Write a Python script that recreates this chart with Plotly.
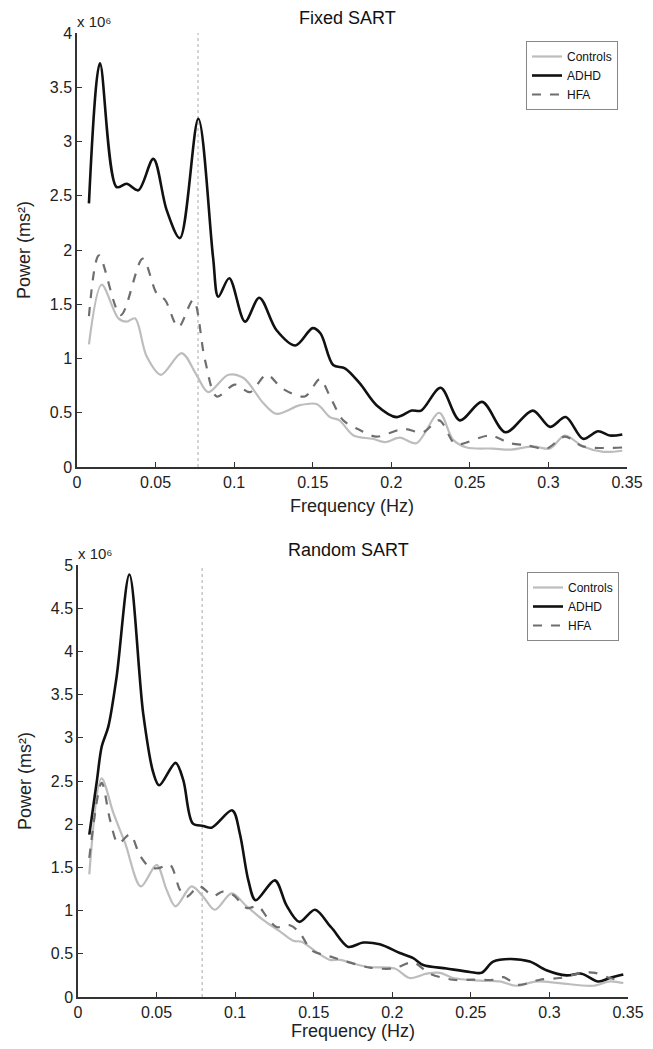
import plotly.graph_objects as go

# ---------------- Data (power in units of 10^6 ms^2) ----------------
# Fixed SART
fixed_adhd_f = [0.0076, 0.0146, 0.0252, 0.0316, 0.0390, 0.0486, 0.0570, 0.0655, 0.0772, 0.0866,
                0.0899, 0.0969, 0.1069, 0.1160, 0.1270, 0.1390, 0.1500, 0.1550, 0.1630, 0.1705,
                0.1800, 0.1906, 0.2034, 0.2130, 0.2190, 0.2314, 0.2436, 0.2578, 0.2727, 0.2900,
                0.3010, 0.3110, 0.3220, 0.3316, 0.3390, 0.3470]
fixed_adhd_p = [2.43, 3.72, 2.58, 2.61, 2.55, 2.84, 2.37, 2.11, 3.21, 1.93,
                1.57, 1.74, 1.34, 1.56, 1.26, 1.12, 1.28, 1.23, 0.94, 0.91,
                0.77, 0.57, 0.46, 0.52, 0.52, 0.73, 0.43, 0.60, 0.32, 0.52,
                0.37, 0.46, 0.26, 0.33, 0.29, 0.30]

fixed_ctrl_f = [0.0076, 0.0157, 0.0263, 0.0316, 0.0369, 0.0443, 0.0534, 0.0666, 0.0760, 0.0835,
                0.0963, 0.1060, 0.1185, 0.1270, 0.1419, 0.1525, 0.1610, 0.1670, 0.1760, 0.1880,
                0.1960, 0.2055, 0.2160, 0.2305, 0.2394, 0.2480, 0.2650, 0.2754, 0.2900, 0.3010,
                0.3104, 0.3220, 0.3350, 0.3470]
fixed_ctrl_p = [1.13, 1.68, 1.37, 1.34, 1.37, 1.02, 0.85, 1.05, 0.85, 0.69,
                0.85, 0.82, 0.59, 0.49, 0.57, 0.58, 0.46, 0.43, 0.29, 0.26,
                0.23, 0.27, 0.22, 0.50, 0.25, 0.18, 0.17, 0.16, 0.19, 0.17,
                0.29, 0.19, 0.14, 0.15]

fixed_hfa_f = [0.0076, 0.0140, 0.0278, 0.0418, 0.0507, 0.0560, 0.0645, 0.0740, 0.0814, 0.0889,
               0.1005, 0.1100, 0.1207, 0.1310, 0.1450, 0.1546, 0.1610, 0.1694, 0.1800, 0.1906,
               0.2076, 0.2200, 0.2305, 0.2394, 0.2436, 0.2627, 0.2754, 0.2860, 0.2988, 0.3104,
               0.3220, 0.3470]
fixed_hfa_p = [1.39, 1.95, 1.40, 1.92, 1.60, 1.54, 1.29, 1.54, 0.99, 0.65,
               0.76, 0.69, 0.85, 0.72, 0.65, 0.81, 0.65, 0.43, 0.34, 0.28,
               0.35, 0.32, 0.43, 0.23, 0.21, 0.29, 0.22, 0.20, 0.17, 0.28,
               0.19, 0.18]

# Random SART
rand_adhd_f = [0.0072, 0.0120, 0.0151, 0.0193, 0.0246, 0.0327, 0.0415, 0.0480, 0.0517, 0.0621,
               0.0670, 0.0730, 0.0797, 0.0850, 0.0982, 0.1030, 0.1084, 0.1130, 0.1253, 0.1327,
               0.1408, 0.1508, 0.1600, 0.1624, 0.1720, 0.1815, 0.1920, 0.2048, 0.2133, 0.2197,
               0.2345, 0.2494, 0.2568, 0.2642, 0.2748, 0.2875, 0.2981, 0.3108, 0.3204, 0.3310,
               0.3384, 0.3470]
rand_adhd_p = [1.88, 2.50, 2.90, 3.13, 3.71, 4.89, 3.28, 2.59, 2.45, 2.71,
               2.51, 2.01, 1.98, 1.96, 2.16, 1.89, 1.35, 1.12, 1.35, 1.06,
               0.87, 1.01, 0.83, 0.78, 0.58, 0.63, 0.61, 0.51, 0.45, 0.37,
               0.33, 0.29, 0.28, 0.41, 0.44, 0.41, 0.31, 0.25, 0.27, 0.18,
               0.22, 0.26]

rand_ctrl_f = [0.0072, 0.0150, 0.0225, 0.0300, 0.0400, 0.0500, 0.0564, 0.0621, 0.0723, 0.0797,
               0.0871, 0.0978, 0.1073, 0.1180, 0.1285, 0.1370, 0.1423, 0.1518, 0.1603, 0.1667,
               0.1836, 0.2016, 0.2110, 0.2218, 0.2303, 0.2387, 0.2557, 0.2684, 0.2790, 0.2918,
               0.3066, 0.3278, 0.3384, 0.3470]
rand_ctrl_p = [1.42, 2.53, 2.13, 1.78, 1.28, 1.53, 1.24, 1.05, 1.28, 1.16,
               1.01, 1.20, 1.05, 0.89, 0.76, 0.65, 0.64, 0.52, 0.43, 0.43,
               0.35, 0.33, 0.22, 0.27, 0.28, 0.22, 0.19, 0.18, 0.13, 0.18,
               0.16, 0.13, 0.18, 0.16]

rand_hfa_f = [0.0072, 0.0151, 0.0204, 0.0256, 0.0331, 0.0394, 0.0458, 0.0510, 0.0585, 0.0649,
              0.0691, 0.0772, 0.0861, 0.0920, 0.0988, 0.1073, 0.1147, 0.1200, 0.1264, 0.1349,
              0.1412, 0.1487, 0.1603, 0.1709, 0.1858, 0.2006, 0.2133, 0.2239, 0.2387, 0.2515,
              0.2642, 0.2706, 0.2800, 0.2939, 0.3066, 0.3215, 0.3290, 0.3384, 0.3470]
rand_hfa_p = [1.61, 2.48, 2.05, 1.78, 1.88, 1.64, 1.50, 1.49, 1.53, 1.24,
              1.16, 1.28, 1.17, 1.22, 1.18, 1.03, 1.05, 0.93, 0.81, 0.83,
              0.74, 0.54, 0.47, 0.41, 0.34, 0.33, 0.40, 0.27, 0.20, 0.20,
              0.20, 0.23, 0.14, 0.20, 0.22, 0.28, 0.28, 0.22, 0.18]

marker_freq = [0.077, 0.079]          # dotted reference lines
titles = ["Fixed SART", "Random SART"]
x_ticks = [0, 0.05, 0.1, 0.15, 0.2, 0.25, 0.3, 0.35]
x_tick_text = ["0", "0.05", "0.1", "0.15", "0.2", "0.25", "0.3", "0.35"]
y_ticks_top = [0, 0.5, 1, 1.5, 2, 2.5, 3, 3.5, 4]
y_ticks_bot = [0, 0.5, 1, 1.5, 2, 2.5, 3, 3.5, 4, 4.5, 5]

# ---------------- Figure ----------------
PAGE_W, PAGE_H = 653, 1049
BODY_MARGIN = 8                      # default page body margin around the plot div
W, H = PAGE_W - 2 * BODY_MARGIN, PAGE_H - 2 * BODY_MARGIN
FONT = "Liberation Sans, Arial, Helvetica, sans-serif"
C_CTRL, C_ADHD, C_HFA = "#bdbdbd", "#111111", "#6e6e6e"

def px_x(p):
    return (p - BODY_MARGIN) / W

def px_y(p):
    return 1 - (p - BODY_MARGIN) / H

fig = go.Figure()

panels = [
    dict(xa="x", ya="y", legend="legend",
         ctrl=(fixed_ctrl_f, fixed_ctrl_p), adhd=(fixed_adhd_f, fixed_adhd_p),
         hfa=(fixed_hfa_f, fixed_hfa_p)),
    dict(xa="x2", ya="y2", legend="legend2",
         ctrl=(rand_ctrl_f, rand_ctrl_p), adhd=(rand_adhd_f, rand_adhd_p),
         hfa=(rand_hfa_f, rand_hfa_p)),
]

for pnl in panels:
    for name, key, color, dash, width in [
        ("Controls", "ctrl", C_CTRL, "solid", 2.2),
        ("ADHD", "adhd", C_ADHD, "solid", 2.6),
        ("HFA", "hfa", C_HFA, "dash", 2.2),
    ]:
        xs, ys = pnl[key]
        fig.add_trace(go.Scatter(
            x=xs, y=ys, mode="lines", name=name,
            line=dict(color=color, width=width, dash=dash, shape="spline", smoothing=0.9),
            xaxis=pnl["xa"], yaxis=pnl["ya"], legend=pnl["legend"],
        ))

# plot areas in page pixels: (left, right, top, bottom)
areas = [(77, 627, 33, 467), (78, 628, 565, 997)]

axis_common = dict(
    showgrid=False, zeroline=False, showline=True, linecolor="#333333", linewidth=1.5,
    ticks="inside", ticklen=5, tickwidth=1.2, tickcolor="#333333",
    tickfont=dict(family=FONT, size=16, color="#222222"),
    mirror=False, automargin=False,
)

layout_axes = {}
for i, (l, r, t, b) in enumerate(areas):
    sfx = "" if i == 0 else "2"
    layout_axes["xaxis" + sfx] = dict(
        axis_common, domain=[px_x(l), px_x(r)], range=[0, 0.35],
        tickvals=x_ticks, ticktext=x_tick_text, anchor="y" + sfx,
        title=dict(text="Frequency (Hz)", font=dict(family=FONT, size=18, color="#222222"), standoff=9),
    )
    yt = y_ticks_top if i == 0 else y_ticks_bot
    layout_axes["yaxis" + sfx] = dict(
        axis_common, domain=[px_y(b), px_y(t)], range=[0, yt[-1]],
        tickvals=yt, ticktext=[f"{v:g}" for v in yt], anchor="x" + sfx,
        title=dict(text="Power (ms²)", font=dict(family=FONT, size=18, color="#222222"), standoff=14),
    )

shapes = []
annotations = []
for i, (l, r, t, b) in enumerate(areas):
    sfx = "" if i == 0 else "2"
    shapes.append(dict(
        type="line", xref="x" + sfx, yref="y" + sfx + " domain",
        x0=marker_freq[i], x1=marker_freq[i], y0=0, y1=1,
        line=dict(color="#aaaaaa", width=1, dash="dot"), layer="below",
    ))
    annotations.append(dict(
        text=titles[i], xref="paper", yref="paper",
        x=px_x((l + r) / 2 - 5), y=px_y(t - 15), xanchor="center", yanchor="middle",
        showarrow=False, font=dict(family=FONT, size=18, color="#111111"),
    ))
    annotations.append(dict(
        text="x 10⁶", xref="paper", yref="paper",
        x=px_x(l - 2), y=px_y(t - 1), xanchor="left", yanchor="bottom",
        showarrow=False, font=dict(family=FONT, size=15, color="#222222"),
    ))

legend_common = dict(
    bgcolor="white", bordercolor="#888888", borderwidth=1,
    font=dict(family=FONT, size=12, color="#111111"),
    xanchor="left", yanchor="top", itemwidth=30, tracegroupgap=0,
)

fig.update_layout(
    width=W, height=H,
    margin=dict(l=0, r=0, t=0, b=0, autoexpand=False),
    paper_bgcolor="white", plot_bgcolor="white",
    font=dict(family=FONT),
    showlegend=True,
    legend=dict(legend_common, x=px_x(526), y=px_y(41)),
    legend2=dict(legend_common, x=px_x(527), y=px_y(572)),
    shapes=shapes, annotations=annotations,
    **layout_axes,
)

fig.write_html("out.html")
